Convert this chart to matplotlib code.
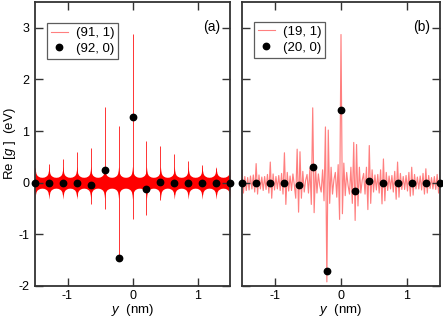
import numpy as np
import matplotlib
matplotlib.use("Agg")
import matplotlib.pyplot as plt
from matplotlib.lines import Line2D

plt.rcParams['font.family'] = ['Liberation Sans', 'DejaVu Sans']
plt.rcParams['axes.unicode_minus'] = False
plt.rcParams['mathtext.fontset'] = 'custom'
plt.rcParams['mathtext.it'] = 'Liberation Sans:italic'
plt.rcParams['mathtext.rm'] = 'Liberation Sans'

# ---- data ----
sites = [-1.5, -1.286, -1.071, -0.857, -0.643, -0.429, -0.214, 0.0,
         0.214, 0.429, 0.643, 0.857, 1.071, 1.286, 1.5]

# panel (a): (92, 0) points
dots_a = [0, 0, 0, 0, -0.04, 0.25, -1.45, 1.28, -0.12, 0.02, 0, 0, 0, 0, 0]
# panel (a): (91, 1) spikes at lattice sites (top / bottom)
spike_top_a = [0.28, 0.37, 0.45, 0.59, 0.67, 1.46, 1.10, 2.88, 0.80, 0.72,
               0.55, 0.43, 0.35, 0.29, 0.25]
spike_bot_a = [-0.20, -0.20, -0.22, -0.25, -0.41, -0.51, -1.52, -0.70, -0.62,
               -0.33, -0.22, -0.20, -0.20, -0.20, -0.20]
# panel (a): envelope half-width of the dense oscillation vs distance from site
env_dist = [0.0, 0.006, 0.015, 0.03, 0.05, 0.075, 0.108]
env_half = [0.32, 0.24, 0.18, 0.145, 0.125, 0.11, 0.105]

# panel (b): (20, 0) points
dots_b = [0, 0, 0, 0, -0.05, 0.31, -1.71, 1.41, -0.16, 0.03, 0, 0, 0, 0, 0]
# panel (b): (19, 1) oscillation extremes, step 0.2143/10 nm from -1.5
osc_b = [
    0.25, -0.20, 0.12, -0.15, 0.10, -0.14, 0.13, -0.12, 0.15, -0.18,
    0.37, -0.22, 0.15, -0.12, 0.11, -0.15, 0.12, -0.13, 0.16, -0.20,
    0.40, -0.30, 0.17, -0.14, 0.12, -0.12, 0.14, -0.15, 0.18, -0.22,
    0.58, -0.42, 0.20, -0.16, 0.13, -0.15, 0.17, -0.05, -0.30, 0.65,
    -0.57, 0.60, -0.30, 0.22, -0.18, 0.05, 0.16, -0.20, 0.28, -0.42,
    1.45, -0.58, 0.30, -0.20, 0.17, -0.06, -0.18, 0.25, -0.35, 1.08,
    -1.92, 1.02, -0.40, 0.30, -0.22, 0.06, 0.20, -0.28, 0.35, -0.71,
    2.87, -0.60, 0.38, -0.25, 0.20, -0.05, -0.22, 0.30, -0.40, 0.78,
    -0.73, 0.74, -0.45, 0.30, -0.20, 0.05, 0.18, -0.22, 0.30, -0.52,
    0.72, -0.40, 0.25, -0.18, 0.15, -0.14, 0.16, -0.20, 0.25, -0.41,
    0.46, -0.35, 0.20, -0.15, 0.13, -0.12, 0.14, -0.18, 0.22, -0.32,
    0.40, -0.28, 0.18, -0.13, 0.12, -0.13, 0.14, -0.16, 0.20, -0.26,
    0.30, -0.24, 0.16, -0.12, 0.11, -0.12, 0.13, -0.14, 0.18, -0.22,
    0.27, -0.20, 0.14, -0.11, 0.10, -0.12, 0.12, -0.13, 0.16, -0.20,
    0.24,
]

labels_a = ["(91, 1)", "(92, 0)"]
labels_b = ["(19, 1)", "(20, 0)"]
xticks = [-1, 0, 1]
yticks = [-2, -1, 0, 1, 2, 3]

# ---- figure ----
W, H = 443, 319
fig = plt.figure(figsize=(W / 100, H / 100), dpi=100)
axa = fig.add_axes([35 / W, 1 - 286 / H, 195 / W, 284 / H])
axb = fig.add_axes([242 / W, 1 - 286 / H, 198 / W, 284 / H])

spine_col = '#333333'
fs = 9

def style(ax, show_ylabels):
    ax.set_xlim(-1.5, 1.5)
    ax.set_ylim(-2, 3.5)
    ax.set_xticks(xticks)
    ax.set_yticks(yticks)
    ax.tick_params(direction='in', length=6, width=1.0, color=spine_col,
                   top=True, right=True, labelsize=fs, pad=4)
    ax.tick_params(axis='x', pad=3)
    for s in ax.spines.values():
        s.set_color(spine_col)
        s.set_linewidth(1.3)
    if not show_ylabels:
        ax.tick_params(labelleft=False)
    ax.set_xlabel("$y$  (nm)", fontsize=fs + 0.5, labelpad=0)

# panel (a)
sites_arr = np.array(sites)
xa = np.unique(np.clip(np.concatenate(
    [sites_arr[:, None] + np.array(env_dist)[None, :],
     sites_arr[:, None] - np.array(env_dist)[None, :]]).ravel(), -1.5, 1.5))
dist = np.min(np.abs(xa[:, None] - sites_arr[None, :]), axis=1)
half = np.interp(dist, env_dist, env_half)
axa.fill_between(xa, -half, half, color='red', lw=0, zorder=1)
axa.vlines(sites, spike_bot_a, spike_top_a, color='red', lw=0.7, alpha=0.8,
           zorder=1)
axa.plot(sites, dots_a, 'o', color='black', ms=4.6, zorder=3, clip_on=False)
style(axa, True)
axa.set_ylabel("Re [$g$ ]  (eV)", fontsize=fs + 0.5, labelpad=0)
axa.text(0.95, 0.935, "(a)", transform=axa.transAxes, ha='right', va='top',
         fontsize=fs + 1)
h_line = Line2D([], [], color='red', lw=0.8, alpha=0.5)
h_dot = Line2D([], [], marker='o', color='black', ls='none', ms=4.6)
leg_kw = dict(loc='upper left', fontsize=fs + 0.5, frameon=True,
              fancybox=False, edgecolor='#333333', handlelength=1.3,
              handletextpad=0.6, borderpad=0.3, labelspacing=0.25,
              borderaxespad=0)
leg = axa.legend([h_line, h_dot], labels_a, bbox_to_anchor=(0.06, 0.925),
                 **leg_kw)
leg.get_frame().set_linewidth(0.9)

# panel (b)
xb = -1.5 + np.arange(len(osc_b)) * (3.0 / (len(osc_b) - 1))
axb.plot(xb, osc_b, color='red', lw=0.85, alpha=0.5, zorder=1)
axb.plot(sites, dots_b, 'o', color='black', ms=4.6, zorder=3, clip_on=False)
style(axb, False)
axb.text(0.95, 0.935, "(b)", transform=axb.transAxes, ha='right', va='top',
         fontsize=fs + 1)
leg = axb.legend([h_line, h_dot], labels_b, bbox_to_anchor=(0.06, 0.93),
                 **leg_kw)
leg.get_frame().set_linewidth(0.9)

fig.savefig("out.png", dpi=100)
